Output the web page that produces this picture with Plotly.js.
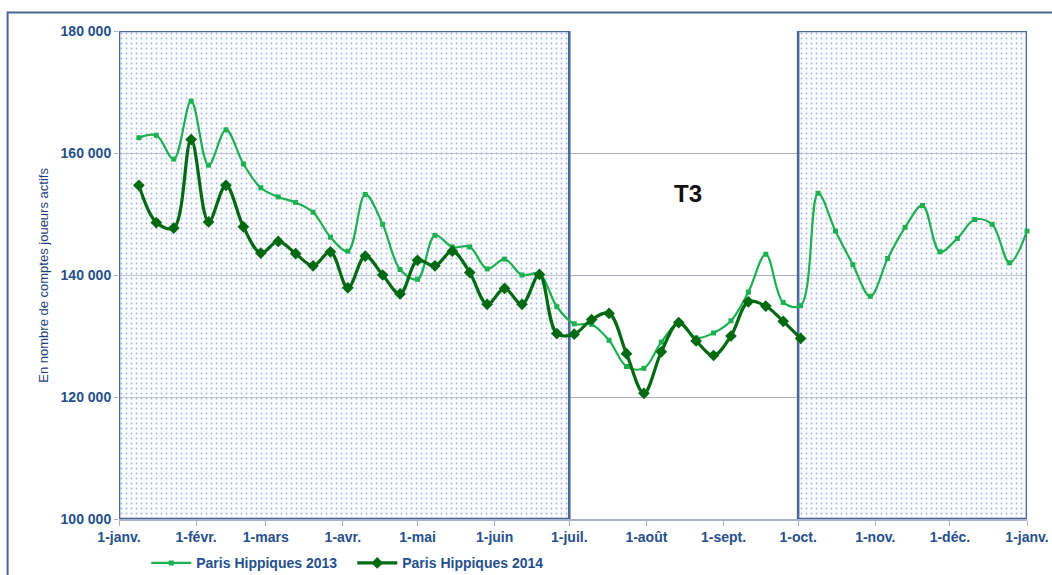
<!DOCTYPE html>
<html>
<head>
<meta charset="utf-8">
<script src="https://cdn.plot.ly/plotly-3.0.1.min.js"></script>
<style>html,body{margin:0;padding:0;background:#fff;}#chart{width:1052px;height:575px;}</style>
</head>
<body>
<div id="chart"></div>
<script>
// Weekly observation dates (placed on a common calendar year)
const weeks = [
  '2013-01-09','2013-01-16','2013-01-23','2013-01-30',
  '2013-02-06','2013-02-13','2013-02-20','2013-02-27',
  '2013-03-06','2013-03-13','2013-03-20','2013-03-27',
  '2013-04-03','2013-04-10','2013-04-17','2013-04-24',
  '2013-05-01','2013-05-08','2013-05-15','2013-05-22','2013-05-29',
  '2013-06-05','2013-06-12','2013-06-19','2013-06-26',
  '2013-07-03','2013-07-10','2013-07-17','2013-07-24','2013-07-31',
  '2013-08-07','2013-08-14','2013-08-21','2013-08-28',
  '2013-09-04','2013-09-11','2013-09-18','2013-09-25',
  '2013-10-02','2013-10-09','2013-10-16','2013-10-23','2013-10-30',
  '2013-11-06','2013-11-13','2013-11-20','2013-11-27',
  '2013-12-04','2013-12-11','2013-12-18','2013-12-25',
  '2014-01-01'
];

// Paris Hippiques 2013 (active player accounts)
const paris2013 = [
  162500,162900,159000,168500,158000,163800,158200,154300,152800,151900,
  150300,146200,143900,153200,148300,140900,139300,146500,144600,144600,
  141000,142600,140000,140200,134800,132000,131900,129300,125000,124700,
  129000,132000,129700,130500,132500,137200,143400,135500,135000,153400,
  147200,141700,136500,142700,147800,151400,143800,146000,149100,148300,
  142000,147200
];

// Paris Hippiques 2014 (until early October)
const paris2014 = [
  154700,148600,147700,162200,148700,154700,147900,143600,145500,143500,
  141500,143800,137900,143100,140000,136900,142400,141500,143900,140400,
  135200,137800,135200,140100,130400,130300,132700,133700,127100,120600,
  127400,132200,129200,126800,130000,135600,134900,132400,129600
];

const seriesNames = ['Paris Hippiques 2013','Paris Hippiques 2014'];

const monthTicks = ['2013-01-01','2013-02-01','2013-03-01','2013-04-01','2013-05-01','2013-06-01',
  '2013-07-01','2013-08-01','2013-09-01','2013-10-01','2013-11-01','2013-12-01','2014-01-01'];
const monthLabels = ['1-janv.','1-févr.','1-mars','1-avr.','1-mai','1-juin',
  '1-juil.','1-août','1-sept.','1-oct.','1-nov.','1-déc.','1-janv.'];

const yTicks = [100000,120000,140000,160000,180000];
const yLabels = ['100 000','120 000','140 000','160 000','180 000'];
const yRange = [100000,180000];

// Shaded periods (S1 and T4), unshaded T3
const bandStarts = ['2013-01-01','2013-10-01'];
const bandEnds   = ['2013-07-01','2014-01-01'];
const quarterLabel = 'T3';

const navy = '#264F8C';
const bandBorder = '#4A6898';
const grid = '#A9B1C9';
const baseFont = 'Liberation Sans, Arial, sans-serif';

const traces = [];
for (let i = 0; i < bandStarts.length; i++) {
  traces.push({
    type: 'scatter', mode: 'lines',
    x: [bandStarts[i], bandStarts[i], bandEnds[i], bandEnds[i], bandStarts[i]],
    y: [yRange[0], yRange[1], yRange[1], yRange[0], yRange[0]],
    fill: 'toself',
    fillcolor: 'rgba(236,241,249,0.2)',
    fillpattern: {shape: '.', fgcolor: '#A3B7DA', bgcolor: 'rgba(242,246,251,0.3)', size: 5, solidity: 0.1},
    line: {color: bandBorder, width: 2.6},
    hoverinfo: 'skip', showlegend: false, cliponaxis: false
  });
}

traces.push({
  type: 'scatter', mode: 'lines+markers', name: seriesNames[0],
  x: weeks, y: paris2013,
  line: {color: '#1DB050', width: 2.2, shape: 'spline', smoothing: 1},
  marker: {symbol: 'square', size: 5, color: '#1DB050'},
  cliponaxis: false
});
traces.push({
  type: 'scatter', mode: 'lines+markers', name: seriesNames[1],
  x: weeks.slice(0, paris2014.length), y: paris2014,
  line: {color: '#006A12', width: 3.2, shape: 'spline', smoothing: 1},
  marker: {symbol: 'diamond', size: 9, color: '#006A12'},
  cliponaxis: false
});

const layout = {
  width: 1052, height: 575,
  margin: {l: 119, r: 25, t: 31, b: 56, autoexpand: false},
  paper_bgcolor: '#ffffff', plot_bgcolor: '#ffffff',
  showlegend: true,
  font: {family: baseFont, color: navy},
  xaxis: {
    type: 'date', range: [monthTicks[0], monthTicks[monthTicks.length - 1]],
    tickmode: 'array', tickvals: monthTicks, ticktext: monthLabels,
    ticks: 'outside', ticklen: 5, tickcolor: grid, tickwidth: 1,
    showline: true, linecolor: grid, linewidth: 1.5,
    showgrid: false, zeroline: false, automargin: false,
    tickfont: {family: baseFont, size: 14, color: navy, weight: 'bold'}
  },
  yaxis: {
    range: yRange, tickmode: 'array', tickvals: yTicks, ticktext: yLabels,
    ticks: 'outside', ticklen: 4, tickcolor: grid, automargin: false,
    showline: false, showgrid: true, gridcolor: grid, gridwidth: 1, zeroline: false,
    tickfont: {family: baseFont, size: 14, color: navy, weight: 'bold'}
  },
  legend: {
    orientation: 'h', x: 0.03, xanchor: 'left', y: -0.058, yanchor: 'top',
    bgcolor: 'rgba(0,0,0,0)',
    font: {family: baseFont, size: 14, color: navy, weight: 'bold'},
    itemwidth: 40, entrywidth: 151, entrywidthmode: 'pixels'
  },
  annotations: [
    {text: 'En nombre de comptes joueurs actifs', xref: 'paper', yref: 'paper',
     x: -0.084, y: 0.5, xanchor: 'center', yanchor: 'middle', textangle: -90, showarrow: false,
     font: {family: baseFont, size: 13, color: '#1F3F7A'}},
    {text: quarterLabel, xref: 'paper', yref: 'paper', x: 0.627, y: 0.667,
     xanchor: 'center', yanchor: 'middle', showarrow: false,
     font: {family: baseFont, size: 24, color: '#111111', weight: 'bold'}}
  ],
  shapes: [
    {type: 'rect', xref: 'paper', yref: 'paper', x0: -0.1227, x1: 1.035, y0: -0.14, y1: 1.038,
     line: {color: bandBorder, width: 2}, fillcolor: 'rgba(0,0,0,0)', layer: 'below'}
  ]
};

Plotly.newPlot('chart', traces, layout, {displayModeBar: false, staticPlot: true});
</script>
</body>
</html>
